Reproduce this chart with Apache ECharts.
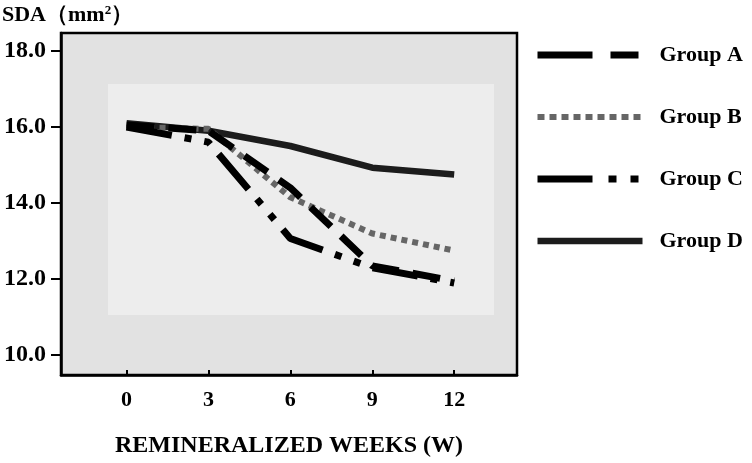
<!DOCTYPE html>
<html>
<head>
<meta charset="utf-8">
<script src="https://cdn.jsdelivr.net/npm/echarts@6/dist/echarts.min.js"></script>
<style>
  html, body { margin: 0; padding: 0; background: #fff; }
  #chart { width: 752px; height: 463px; }
</style>
</head>
<body>
<div id="chart"></div>
<script>
// Remineralization: SDA area over weeks, four groups
const weeks = [0, 3, 6, 9, 12]
const groupA = [16.05, 15.9, 14.4, 12.35, 11.95]
const groupB = [16.0, 15.95, 14.15, 13.2, 12.75]
const groupC = [16.0, 15.6, 13.07, 12.3, 11.9]
const groupD = [16.1, 15.9, 15.5, 14.93, 14.75]
const yTicks = [10, 12, 14, 16, 18]

const serif = '"Liberation Serif", "Times New Roman", serif'
const chart = echarts.init(document.getElementById('chart'))

function pairs(values) {
  return weeks.map((w, i) => [w, values[i]])
}

function lineSeries(name, values, color, type, width) {
  return {
    name,
    type: 'line',
    data: pairs(values),
    symbol: 'none',
    silent: true,
    lineStyle: { color, width, type, cap: 'butt' },
    itemStyle: { color },
  }
}

chart.setOption({
  animation: false,
  backgroundColor: '#fff',
  title: {
    left: 2,
    top: 4,
    padding: 0,
    text: '{a|SDA（mm}{s|2}{a|）}',
    textStyle: {
      fontFamily: serif,
      fontWeight: 'bold',
      fontSize: 22,
      color: '#000',
      rich: {
        a: { fontFamily: serif, fontWeight: 'bold', fontSize: 22, color: '#000' },
        s: { fontFamily: serif, fontWeight: 'bold', fontSize: 13, color: '#000', verticalAlign: 'top', padding: [0, 0, 9, 0] },
      },
    },
  },
  graphic: [
    {
      type: 'rect',
      z: 1,
      silent: true,
      shape: { x: 108, y: 84, width: 386, height: 231 },
      style: { fill: '#ededed' },
    },
  ],
  grid: {
    left: 61,
    top: 33,
    right: 235,
    bottom: 84,
    show: true,
    backgroundColor: '#e2e2e2',
    borderColor: '#000',
    borderWidth: 2.5,
  },
  legend: {
    orient: 'vertical',
    left: 529,
    top: 38,
    itemWidth: 105,
    itemHeight: 14,
    itemGap: 38,
    selectedMode: false,
    lineStyle: { width: 'inherit', type: 'inherit' },
    itemStyle: { opacity: 0 },
    textStyle: {
      fontFamily: serif,
      fontWeight: 'bold',
      fontSize: 22,
      lineHeight: 24,
      color: '#000',
      padding: [0, 0, 0, 12],
    },
    data: [
      { name: 'Group A', lineStyle: { type: [55, 18, 28, 10] } },
      { name: 'Group B', lineStyle: { type: [7, 5] } },
      { name: 'Group C', lineStyle: { type: [55, 16, 8, 14, 8, 20] } },
      { name: 'Group D' },
    ],
  },
  xAxis: {
    type: 'value',
    min: -2.4,
    max: 14.3,
    splitLine: { show: false },
    axisLine: { show: true, onZero: false, lineStyle: { color: '#000', width: 2.5 } },
    axisTick: { show: true, inside: true, customValues: weeks, length: 5, lineStyle: { color: '#000', width: 2 } },
    axisLabel: {
      customValues: weeks,
      margin: 14,
      fontFamily: serif,
      fontWeight: 'bold',
      fontSize: 22,
      color: '#000',
    },
    name: 'REMINERALIZED WEEKS (W)',
    nameLocation: 'middle',
    nameGap: 59,
    nameTextStyle: { fontFamily: serif, fontWeight: 'bold', fontSize: 24, color: '#000' },
  },
  yAxis: {
    type: 'value',
    min: 9.48,
    max: 18.47,
    splitLine: { show: false },
    axisLine: { show: true, onZero: false, lineStyle: { color: '#000', width: 2.5 } },
    axisTick: { show: true, customValues: yTicks, length: 10, lineStyle: { color: '#000', width: 2 } },
    axisLabel: {
      customValues: yTicks,
      margin: 15,
      padding: [10, 0, 0, 0],
      fontFamily: serif,
      fontWeight: 'bold',
      fontSize: 24,
      color: '#000',
      formatter: v => v.toFixed(1),
    },
  },
  series: [
    lineSeries('Group D', groupD, '#1c1c1c', 'solid', 6.5),
    lineSeries('Group B', groupB, '#666', [6, 5], 6),
    lineSeries('Group C', groupC, '#000', [46, 13, 7, 13, 7, 13], 7),
    lineSeries('Group A', groupA, '#000', [28, 14], 7),
  ],
})
</script>
</body>
</html>
